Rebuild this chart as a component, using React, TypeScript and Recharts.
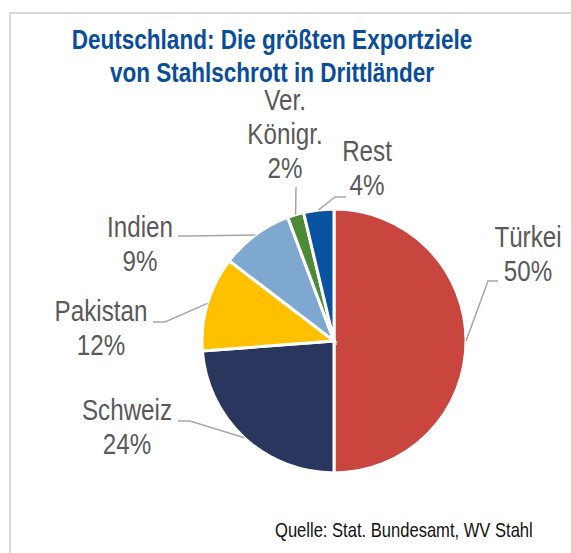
import * as React from 'react'
import { Cell, Pie, PieChart } from 'recharts'

// Exportziele Stahlschrott (Anteile in %)
const countries = ['Türkei', 'Schweiz', 'Pakistan', 'Indien', 'Ver. Königr.', 'Rest']
const shares = [50.0, 23.8, 11.6, 8.9, 2.0, 3.7]
const sliceColors = ['#C8463E', '#29365E', '#FFC000', '#7FA8D0', '#4E8A36', '#0A52A0']

const titleLines = ['Deutschland: Die größten Exportziele', 'von Stahlschrott in Drittländer']
const sourceNote = 'Quelle: Stat. Bundesamt, WV Stahl'

const data = countries.map((name, i) => ({ name, value: shares[i] }))

const W = 571
const H = 553
const CX = 334
const CY = 341
const R = 132
const FONT = "'Liberation Sans', Arial, sans-serif"
// no Arial Narrow offline -> squeeze Liberation Sans horizontally
const NARROW = 0.82
const LABEL_LH = 34

// label placement relative to pie centre: text centre x, baseline of last line,
// leader elbow and tail end (Excel best-fit look)
const labelLayout = [
  { tx: 194, ty: -60, ex: 154, ey: -60, hx: 164 },
  { tx: -207, ty: 113, ex: -144, ey: 80, hx: -156 },
  { tx: -233, ty: 14, ex: -169, ey: -19, hx: -181 },
  { tx: -194, ty: -70, ex: -144, ey: -105, hx: -156 },
  { tx: -49, ty: -163, ex: -38, ey: -154, hx: -38 },
  { tx: 33, ty: -146, ex: 1, ey: -144, hx: 12 },
]

const RAD = Math.PI / 180

function NarrowText({ x, y, anchor = 'middle', children, ...rest }: any) {
  return (
    <g transform={`translate(${x} ${y}) scale(${NARROW} 1)`}>
      <text x={0} y={0} textAnchor={anchor} fontFamily={FONT} {...rest}>
        {children}
      </text>
    </g>
  )
}

function SliceLabel(props: any) {
  const { cx, cy, midAngle, outerRadius, index, name, percent } = props
  const spot = labelLayout[index]
  if (!spot) return null
  const sx = cx + outerRadius * Math.cos(-midAngle * RAD)
  const sy = cy + outerRadius * Math.sin(-midAngle * RAD)
  const lines = [...String(name).split(' '), `${Math.round(percent * 100)}%`]
  const x = cx + spot.tx
  const lastY = cy + spot.ty
  return (
    <g>
      <polyline
        points={`${sx},${sy} ${cx + spot.ex},${cy + spot.ey} ${cx + spot.hx},${cy + spot.ey}`}
        fill="none"
        stroke="#A6A6A6"
        strokeWidth={1.5}
      />
      {lines.map((l, i) => (
        <NarrowText key={i} x={x} y={lastY - (lines.length - 1 - i) * LABEL_LH} fill="#595959" fontSize={29.5}>
          {l}
        </NarrowText>
      ))}
    </g>
  )
}

export default function App() {
  return (
    <div style={{ position: 'absolute', left: 0, top: 0, width: W, height: H, background: '#fff', overflow: 'hidden' }}>
      <div
        style={{
          position: 'absolute',
          left: 9,
          top: 12,
          width: W + 40,
          height: H + 40,
          borderTop: '2px solid #D9D9D9',
          borderLeft: '2px solid #D9D9D9',
        }}
      />
      <div style={{ position: 'absolute', left: 0, top: 0 }}>
        <PieChart width={W} height={H} margin={{ top: 0, right: 0, bottom: 0, left: 0 }}>
          <Pie
            data={data}
            dataKey="value"
            nameKey="name"
            cx={CX}
            cy={CY}
            outerRadius={R}
            startAngle={90}
            endAngle={-270}
            stroke="#fff"
            strokeWidth={3}
            label={SliceLabel}
            labelLine={false}
            isAnimationActive={false}
          >
            {data.map((d, i) => (
              <Cell key={d.name} fill={sliceColors[i]} />
            ))}
          </Pie>
        </PieChart>
      </div>
      <svg width={W} height={H} style={{ position: 'absolute', left: 0, top: 0, pointerEvents: 'none' }}>
        {titleLines.map((t, i) => (
          <NarrowText key={t} x={272} y={49 + i * 33} fill="#0A4D9A" fontSize={27.5} fontWeight="bold">
            {t}
          </NarrowText>
        ))}
        <NarrowText x={275} y={537} anchor="start" fill="#111" fontSize={20.2}>
          {sourceNote}
        </NarrowText>
      </svg>
    </div>
  )
}
